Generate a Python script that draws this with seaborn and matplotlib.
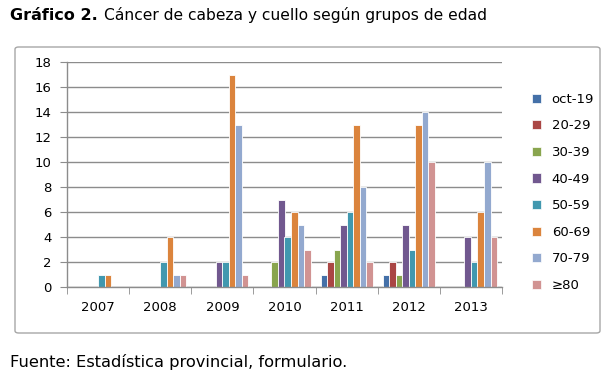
import numpy as np
import pandas as pd
import matplotlib
matplotlib.use("Agg")
import matplotlib.pyplot as plt
from matplotlib.patches import FancyBboxPatch, Patch
import seaborn as sns

years = ["2007", "2008", "2009", "2010", "2011", "2012", "2013"]
groups = ["oct-19", "20-29", "30-39", "40-49", "50-59", "60-69", "70-79", "≥80"]
v_10_19 = [0, 0, 0, 0, 1, 1, 0]
v_20_29 = [0, 0, 0, 0, 2, 2, 0]
v_30_39 = [0, 0, 0, 2, 3, 1, 0]
v_40_49 = [0, 0, 2, 7, 5, 5, 4]
v_50_59 = [1, 2, 2, 4, 6, 3, 2]
v_60_69 = [1, 4, 17, 6, 13, 13, 6]
v_70_79 = [0, 1, 13, 5, 8, 14, 10]
v_80 = [0, 1, 1, 3, 2, 10, 4]
series = [v_10_19, v_20_29, v_30_39, v_40_49, v_50_59, v_60_69, v_70_79, v_80]
colors = ["#4470A8", "#AA4644", "#89A54E", "#71588F", "#4198AF", "#DB843D", "#93A9CF", "#D19392"]
yticks = list(range(0, 19, 2))

rows = []
for g, vals in zip(groups, series):
    for y, v in zip(years, vals):
        rows.append({"Año": y, "Grupo": g, "Casos": v})
df = pd.DataFrame(rows)

sns.set_style("white")
plt.rcParams["font.family"] = ["DejaVu Sans"]
plt.rcParams["text.color"] = "black"
plt.rcParams["xtick.color"] = "black"
plt.rcParams["ytick.color"] = "black"

fig = plt.figure(figsize=(6.15, 3.79), dpi=100)
fig.patch.set_facecolor("white")

# outer chart frame
frame = FancyBboxPatch((15 / 615, 1 - 333 / 379), 585 / 615, 286 / 379,
                       boxstyle="round,pad=0,rounding_size=0.006",
                       transform=fig.transFigure, facecolor="white",
                       edgecolor="#A6A6A6", linewidth=1.0, zorder=-5)
fig.patches.append(frame)

ax = fig.add_axes([67 / 615, 1 - 287 / 379, (502 - 67) / 615, (287 - 62) / 379])
ax.set_facecolor("none")
ax.set_zorder(2)
sns.barplot(data=df, x="Año", y="Casos", hue="Grupo", order=years, hue_order=groups,
            palette=colors, width=0.84, ax=ax, legend=False, linewidth=0.6,
            edgecolor="white", saturation=1)
for p in ax.patches:
    if p.get_height() == 0:
        p.set_visible(False)

ax.set_ylim(0, 18)
ax.set_xlim(-0.5, 6.5)
ax.set_yticks(yticks)
ax.set_yticklabels([str(t) for t in yticks], fontsize=9.5)
ax.yaxis.grid(True, color="#8C8C8C", linewidth=1.0)
ax.set_axisbelow(True)
ax.set_xlabel("")
ax.set_ylabel("")
for s in ["top", "right"]:
    ax.spines[s].set_visible(False)
for s in ["left", "bottom"]:
    ax.spines[s].set_color("#8C8C8C")
    ax.spines[s].set_linewidth(1.0)

ax.set_xticks(range(len(years)))
ax.set_xticklabels(years, fontsize=9.5)
ax.tick_params(axis="x", length=0, pad=10, colors="black")
ax.set_xticks(np.arange(-0.5, 7.0, 1.0), minor=True)
ax.tick_params(axis="x", which="minor", length=5, color="#8C8C8C", direction="out", bottom=True)
ax.tick_params(axis="y", length=5, color="#8C8C8C", labelcolor="black", direction="out", left=True, pad=6)

handles = [Patch(facecolor=c, edgecolor="white", linewidth=0.5) for c in colors]
fig.legend(handles, groups, loc="upper left", bbox_to_anchor=(520 / 615, 1 - 81 / 379),
           bbox_transform=fig.transFigure, frameon=False, fontsize=9.5,
           handlelength=0.7, handleheight=0.7, handletextpad=0.8, labelspacing=1.03)

fig.text(10 / 615, 1 - 15 / 379, "Gráfico 2.", fontsize=11.5, fontweight="bold", va="center", ha="left")
fig.text(104 / 615, 1 - 15 / 379, "Cáncer de cabeza y cuello según grupos de edad", fontsize=11.2,
         va="center", ha="left")
fig.text(10 / 615, 1 - 362 / 379, "Fuente: Estadística provincial, formulario.", fontsize=11.7,
         va="center", ha="left")

fig.savefig("out.png", dpi=100, facecolor="white")
